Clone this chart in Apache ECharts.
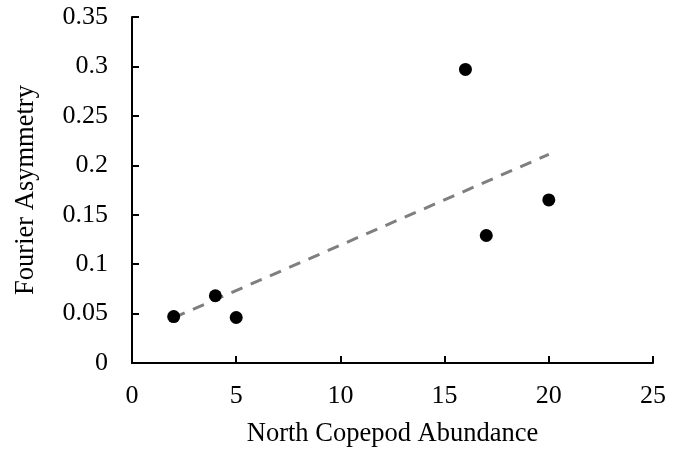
<!DOCTYPE html>
<html>
<head>
<meta charset="utf-8">
<script src="https://cdn.jsdelivr.net/npm/echarts@6/dist/echarts.min.js"></script>
<style>
  html, body { margin: 0; padding: 0; background: #fff; }
  #chart { width: 684px; height: 453px; }
</style>
</head>
<body>
<div id="chart"></div>
<script>
// North copepod abundance vs. Fourier asymmetry
const abundance = [2, 4, 5, 16, 17, 20];
const asymmetry = [0.047, 0.068, 0.046, 0.297, 0.129, 0.165];
const xTicks = [0, 5, 10, 15, 20, 25];
const yTicks = [0, 0.05, 0.1, 0.15, 0.2, 0.25, 0.3, 0.35];

// ordinary least-squares trendline through the points
function linearFit(xs, ys) {
  const n = xs.length;
  const mx = xs.reduce((a, b) => a + b, 0) / n;
  const my = ys.reduce((a, b) => a + b, 0) / n;
  let sxy = 0, sxx = 0;
  for (let i = 0; i < n; i++) {
    sxy += (xs[i] - mx) * (ys[i] - my);
    sxx += (xs[i] - mx) * (xs[i] - mx);
  }
  const slope = sxy / sxx;
  return { slope, intercept: my - slope * mx };
}
const fit = linearFit(abundance, asymmetry);
const xLo = Math.min(...abundance), xHi = Math.max(...abundance);
const trend = [xLo, xHi].map(x => [x, fit.intercept + fit.slope * x]);

const points = abundance.map((x, i) => [x, asymmetry[i]]);

const font = 'Liberation Serif, Times New Roman, serif';
const labelSize = 26;
const titleSize = 26.5;
const axisLine = { show: true, lineStyle: { color: '#000', width: 2 } };
const axisTick = { show: true, inside: true, length: 7, lineStyle: { color: '#000', width: 2 } };

const chart = echarts.init(document.getElementById('chart'), null, { renderer: 'canvas' });
chart.setOption({
  animation: false,
  backgroundColor: '#fff',
  grid: { left: 132, right: 31, top: 17, bottom: 90 },
  xAxis: {
    type: 'value',
    min: xTicks[0], max: xTicks[xTicks.length - 1], interval: xTicks[1] - xTicks[0],
    name: 'North Copepod Abundance',
    nameLocation: 'middle',
    nameGap: 58,
    nameTextStyle: { fontFamily: font, fontSize: titleSize, color: '#000' },
    axisLine, axisTick,
    splitLine: { show: false },
    axisLabel: { fontFamily: font, fontSize: labelSize, color: '#000', margin: 20 }
  },
  yAxis: {
    type: 'value',
    min: yTicks[0], max: yTicks[yTicks.length - 1], interval: 0.05,
    name: 'Fourier Asymmetry',
    nameLocation: 'middle',
    nameGap: 92,
    nameTextStyle: { fontFamily: font, fontSize: titleSize, color: '#000' },
    axisLine, axisTick,
    splitLine: { show: false },
    axisLabel: {
      fontFamily: font, fontSize: labelSize, color: '#000', margin: 24,
      formatter: v => String(+v.toFixed(2))
    }
  },
  series: [
    {
      type: 'line',
      data: trend,
      showSymbol: false,
      symbol: 'none',
      lineStyle: { color: '#7f7f7f', width: 3, type: [12, 9], cap: 'butt' },
      z: 1
    },
    {
      type: 'scatter',
      data: points,
      symbol: 'circle',
      symbolSize: 13,
      itemStyle: { color: '#000', opacity: 1 },
      z: 2
    }
  ]
});
</script>
</body>
</html>
